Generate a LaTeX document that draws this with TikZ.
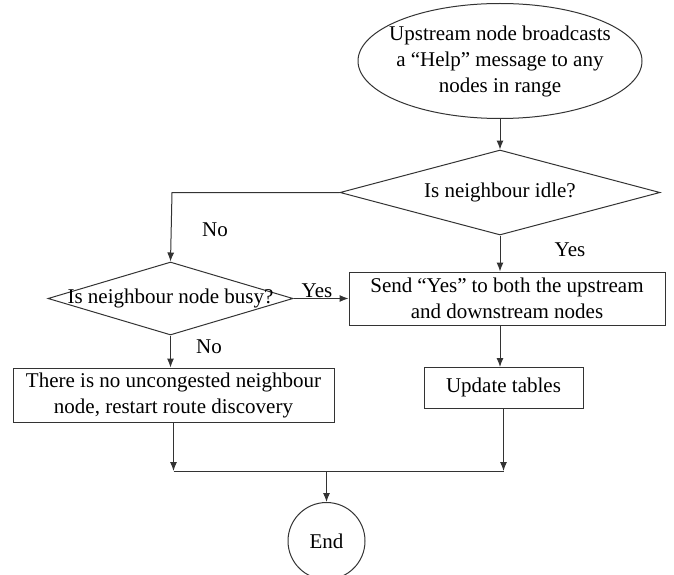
\documentclass[tikz,border=0pt]{standalone}
\usepackage{fontspec}
\setmainfont{Liberation Serif}
\usetikzlibrary{shapes.geometric,arrows.meta}
\begin{document}
\begin{tikzpicture}[x=1pt,y=-1pt,
  every node/.style={font=\fontsize{21}{26}\selectfont, inner sep=0pt, text=black},
  shapeline/.style={draw=black!80, line width=1pt},
  boxnode/.style={shapeline, rectangle, align=center},
  decision/.style={shapeline, diamond},
  conn/.style={draw=black!80, line width=1pt},
  arr/.style={conn, -{Latex[length=9pt,width=7pt]}}]
\useasboundingbox (0,0) rectangle (674,575);
\node[shapeline, ellipse, inner xsep=-16pt, minimum width=284, minimum height=115, align=center] (start) at (500,61)
  {Upstream node broadcasts\\a\hspace{5pt}“Help”\hspace{5pt}message to any\\nodes in range};
\node[decision, minimum width=320, minimum height=85] (idle) at (500,192.5)
  {\makebox[0pt]{Is neighbour idle?}};
\node[decision, minimum width=245, minimum height=73] (busy) at (170.5,298.5)
  {\makebox[0pt]{Is neighbour node busy?}};
\node[boxnode, minimum width=316, minimum height=53] (send) at (507,298.5)
  {Send\hspace{5pt}“Yes”\hspace{5pt}to both the upstream\\and downstream nodes};
\node[boxnode, minimum width=159, minimum height=41] (update) at (503.5,387.5)
  {Update tables};
\node[boxnode, minimum width=321, minimum height=54] (fail) at (173.5,395)
  {There is no uncongested neighbour\\node, restart route discovery};
\node[shapeline, circle, minimum size=77] (end) at (326.5,541) {End};
\coordinate (jl) at (173.5,471);
\coordinate (jr) at (503.5,471);
\coordinate (jm) at (326.5,471);
\coordinate (bend) at (172,192.5);
\node (no1) at (215,230) {No};
\node (yes1) at (570,250) {Yes};
\node (yes2) at (317,291) {Yes};
\node (no2) at (209,347) {No};
\draw[arr] (start.south) -- (idle.north);
\draw[arr] (idle.south) -- (idle.south |- send.north);
\draw[arr] (idle.west) -- (bend) -- (busy.north);
\draw[arr] (busy.east) -- (send.west);
\draw[arr] (busy.south) -- (busy.south |- fail.north);
\draw[arr] (500,325) -- (500,367);
\draw[arr] (fail.south) -- (jl);
\draw[arr] (update.south) -- (jr);
\draw[conn] (jl) -- (jr);
\draw[arr] (jm) -- (end.north);
\end{tikzpicture}
\end{document}
